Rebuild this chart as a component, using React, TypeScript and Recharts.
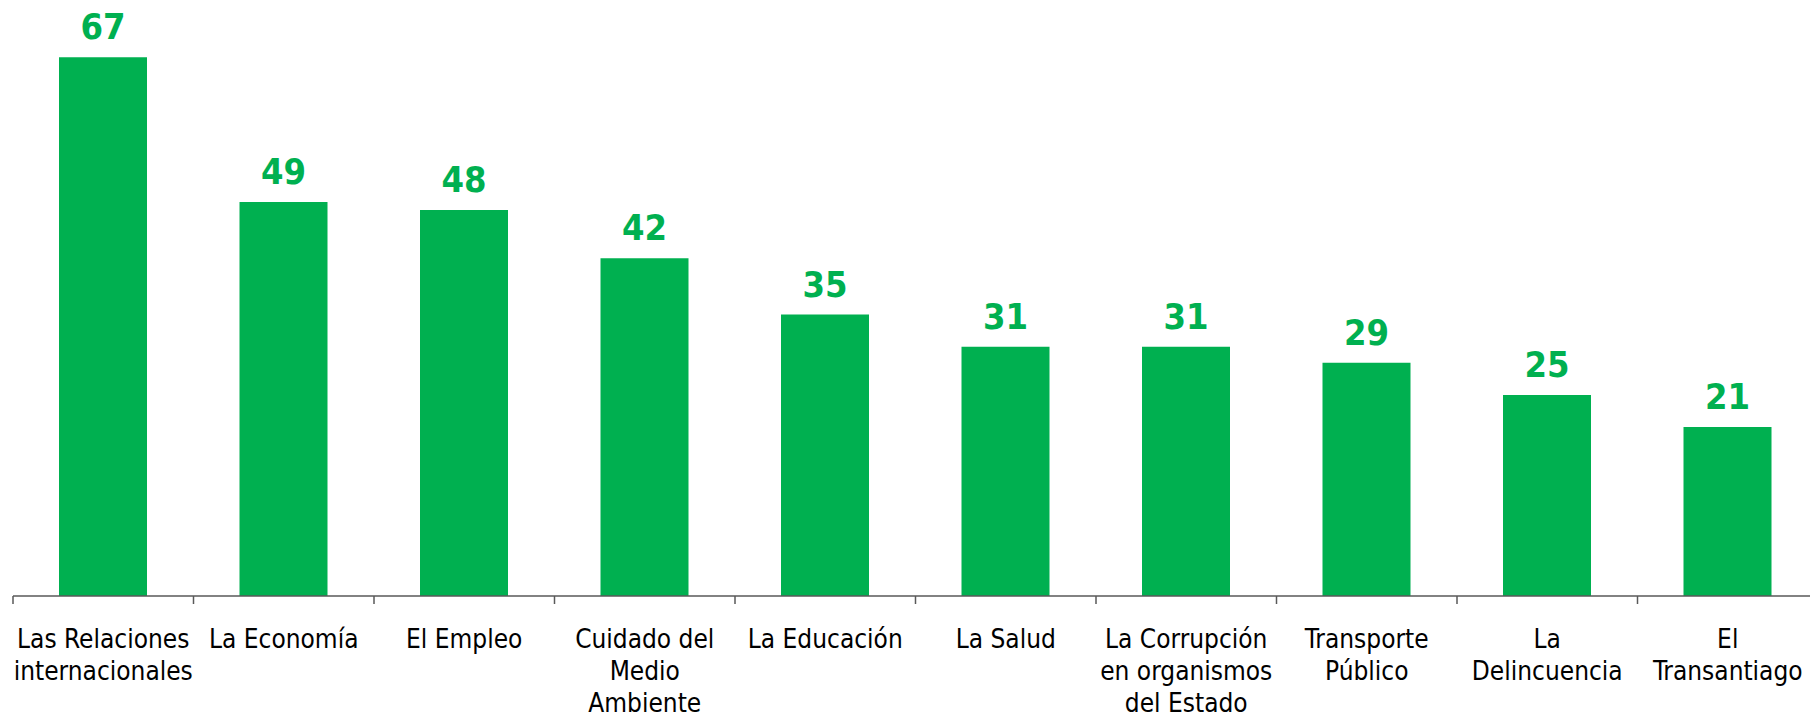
import React from 'react';
import { BarChart, Bar, XAxis, YAxis, LabelList } from 'recharts';

const categories: string[] = [
  'Las Relaciones\ninternacionales',
  'La Economía',
  'El Empleo',
  'Cuidado del\nMedio\nAmbiente',
  'La Educación',
  'La Salud',
  'La Corrupción\nen organismos\ndel Estado',
  'Transporte\nPúblico',
  'La\nDelincuencia',
  'El\nTransantiago',
];

const values: number[] = [67, 49, 48, 42, 35, 31, 31, 29, 25, 21];

const data = categories.map((c, i) => ({ name: c, value: values[i] }));

const GREEN = '#00B050';
const AXIS = '#595959';
const FONT = '"DejaVu Sans", Verdana, sans-serif';

const CHART_W = 1830;
const MARGIN = { top: 33, right: 12, left: 13, bottom: 0 };
const BAND = (CHART_W - MARGIN.left - MARGIN.right) / categories.length;

const CatTick = (props: any) => {
  const { x, y, payload, index } = props;
  const off = payload && payload.offset ? payload.offset : BAND / 2;
  const lines = String(payload.value).split('\n');
  const isLast = index === categories.length - 1;
  return (
    <g>
      <line x1={x - off} y1={y} x2={x - off} y2={y + 8} stroke={AXIS} strokeWidth={1.5} />
      {isLast && <line x1={x + off} y1={y} x2={x + off} y2={y + 8} stroke={AXIS} strokeWidth={1.5} />}
      {lines.map((l, i) => (
        <text
          key={i}
          x={x}
          y={y + 52 + i * 32}
          textAnchor="middle"
          fill="#000000"
          style={{ fontFamily: FONT, fontStretch: 'condensed', fontSize: 26 }}
        >
          {l}
        </text>
      ))}
    </g>
  );
};

const ValueLabel = (props: any) => {
  const { x, y, width, value } = props;
  return (
    <text
      x={x + width / 2}
      y={y - 18}
      textAnchor="middle"
      fill={GREEN}
      style={{ fontFamily: FONT, fontStretch: 'condensed', fontSize: 36, fontWeight: 'bold' }}
    >
      {value}
    </text>
  );
};

export default function App() {
  return (
    <div style={{ position: 'absolute', left: 0, top: 0, width: 1810, height: 712, overflow: 'hidden', background: '#fff' }}>
      <BarChart width={CHART_W} height={712} data={data} margin={MARGIN}>
        <XAxis
          dataKey="name"
          interval={0}
          height={116}
          tickLine={false}
          tickSize={0}
          tickMargin={0}
          axisLine={{ stroke: AXIS, strokeWidth: 1.5 }}
          tick={<CatTick />}
        />
        <YAxis hide domain={[0, 70]} />
        <Bar dataKey="value" fill={GREEN} barSize={88} isAnimationActive={false}>
          <LabelList dataKey="value" content={<ValueLabel />} />
        </Bar>
      </BarChart>
    </div>
  );
}
